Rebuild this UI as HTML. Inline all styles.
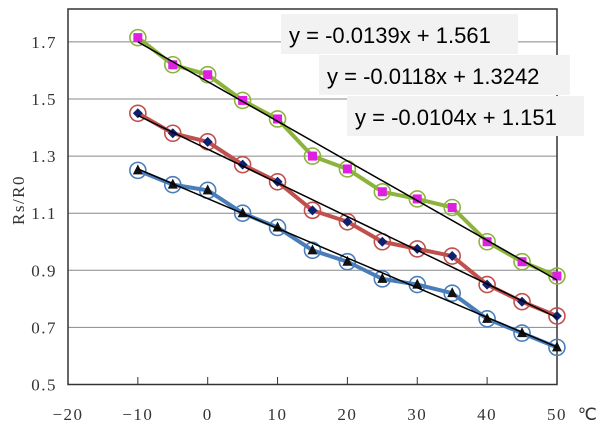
<!DOCTYPE html>
<html><head><meta charset="utf-8"><style>body{margin:0;background:#fff}svg{display:block}</style></head>
<body>
<svg width="600" height="430" xmlns="http://www.w3.org/2000/svg">
<g id="g"></g>
</svg>
<script>
const X=v=>68+(v+20)*6.985, Y=v=>384.5-(v-0.5)*285.5;
const xs=[-10,-5,0,5,10,15,20,25,30,35,40,45,50];
const G=[1.715,1.62,1.585,1.495,1.43,1.30,1.255,1.175,1.15,1.12,1.0,0.93,0.88];
const R=[1.45,1.38,1.35,1.27,1.21,1.11,1.07,1.0,0.975,0.95,0.85,0.79,0.74];
const B=[1.25,1.2,1.18,1.10,1.05,0.97,0.93,0.87,0.85,0.82,0.73,0.68,0.63];
let s='';
const F='font-family="Liberation Serif,serif" font-size="17" fill="#333" letter-spacing="1.5"';
[0.7,0.9,1.1,1.3,1.5,1.7].forEach(v=>{s+=`<line x1="68" x2="557" y1="${Y(v)}" y2="${Y(v)}" stroke="#888" stroke-width="1"/>`;});
s+=`<rect x="68" y="9" width="489" height="375.5" fill="none" stroke="#333" stroke-width="1.5"/>`;
for(let v=-20;v<=50;v+=10){s+=`<line x1="${X(v)}" x2="${X(v)}" y1="377" y2="384.5" stroke="#333"/>`;
 s+=`<text x="${X(v)}" y="420" ${F} text-anchor="middle">${v==-20?'−20':v==-10?'−10':v}</text>`;}
s+=`<text x="588" y="420" ${F} text-anchor="middle">℃</text>`;
[0.5,0.7,0.9,1.1,1.3,1.5,1.7].forEach(v=>{s+=`<text x="57" y="${Y(v)+6}" ${F} text-anchor="end">${v.toFixed(1)}</text>`;});
s+=`<text transform="translate(24,200) rotate(-90)" ${F} text-anchor="middle">Rs/R0</text>`;
function series(d,col,mk){
 s+=`<polyline fill="none" stroke="${col}" stroke-width="4" stroke-linejoin="round" points="${d.map((v,i)=>X(xs[i])+','+Y(v)).join(' ')}"/>`;
 d.forEach((v,i)=>{const x=X(xs[i]),y=Y(v);
  if(mk=='sq')s+=`<rect x="${x-4.5}" y="${y-4.5}" width="9" height="9" fill="#e020e0"/>`;
  else if(mk=='di')s+=`<polygon points="${x},${y-5} ${x+5},${y} ${x},${y+5} ${x-5},${y}" fill="#102070"/>`;
  else s+=`<polygon points="${x},${y-6} ${x+5},${y+4} ${x-5},${y+4}" fill="#111"/>`;
  s+=`<circle cx="${x}" cy="${y}" r="8" fill="none" stroke="${col}" stroke-width="1.6"/>`;});
}
function trend(a,b){s+=`<line x1="${X(-10)}" y1="${Y(a*-10+b)}" x2="${X(50)}" y2="${Y(a*50+b)}" stroke="#000" stroke-width="1.5"/>`;}
series(G,'#8cb43c','sq');series(R,'#c0504d','di');series(B,'#4a7ebb','tr');
trend(-0.0139,1.561);trend(-0.0118,1.3242);trend(-0.0104,1.151);
[[281,14,237,'y = -0.0139x + 1.561'],[319,55,251,'y = -0.0118x + 1.3242'],[347,96,237,'y = -0.0104x + 1.151']].forEach(([x,y,w,t])=>{
 s+=`<rect x="${x}" y="${y}" width="${w}" height="40" fill="#f2f2f2"/><text x="${x+8}" y="${y+29}" font-family="Liberation Sans,sans-serif" font-size="22" fill="#000">${t}</text>`;});
document.getElementById('g').innerHTML=s;
</script>
</body></html>
